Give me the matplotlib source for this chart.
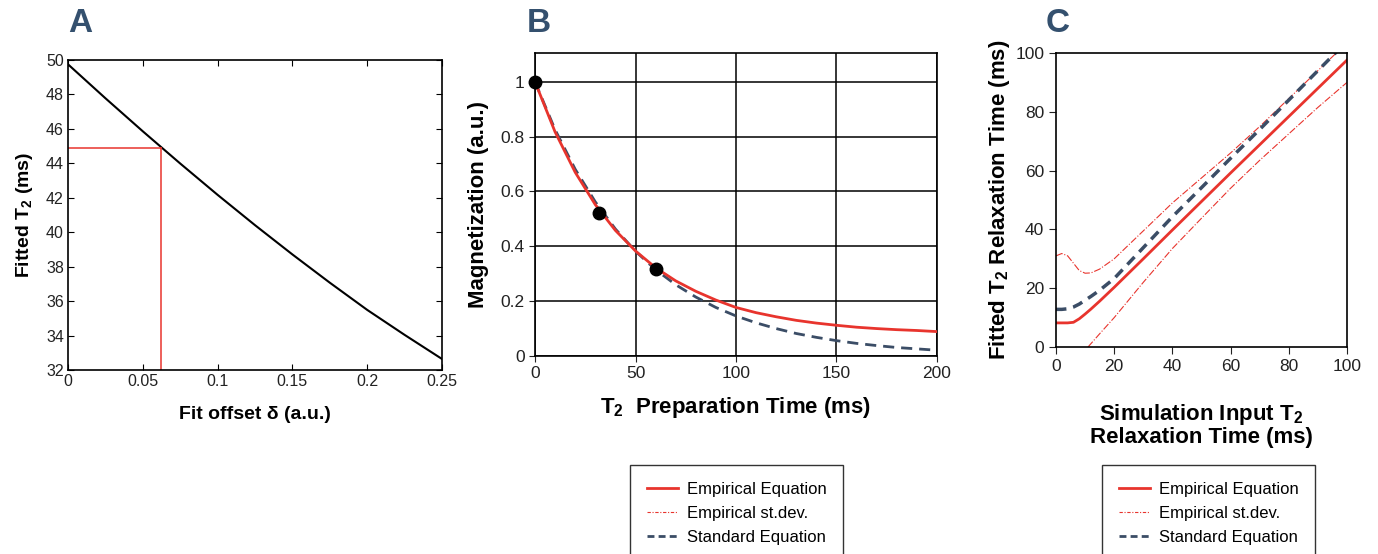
# Three-panel T2 fitting figure: offset bias (A), decay fits (B), fitted vs input T2 (C).
import numpy as np
import matplotlib.pyplot as plt

plt.rcParams['font.family'] = ['Liberation Sans', 'DejaVu Sans']
plt.rcParams['mathtext.fontset'] = 'custom'
plt.rcParams['mathtext.rm'] = 'Liberation Sans'
plt.rcParams['mathtext.bf'] = 'Liberation Sans:bold'
plt.rcParams['mathtext.it'] = 'Liberation Sans:italic'

RED = "#e8342d"
NAVY = "#3b4d66"
LETTER = "#34506e"

# --- panel A: fitted T2 vs fit offset
delta = [0, 0.025, 0.05, 0.075, 0.1, 0.125, 0.15, 0.175, 0.2, 0.225, 0.25]
t2_fit = [49.75, 47.78, 45.86, 43.99, 42.17, 40.41, 38.71, 37.07, 35.49, 34.04, 32.64]
delta_mark, t2_mark = 0.062, 44.9

# --- panel B: magnetization decay
t_prep = [0, 10, 20, 30, 40, 50, 60, 70, 80, 90, 100, 110, 120, 130, 140, 150, 160, 170, 180, 190, 200]
m_emp = [1.0, 0.817, 0.670, 0.552, 0.458, 0.383, 0.322, 0.274, 0.236, 0.204, 0.177, 0.158,
         0.143, 0.130, 0.120, 0.112, 0.105, 0.100, 0.096, 0.093, 0.089]
m_std = [1.0, 0.825, 0.681, 0.562, 0.463, 0.382, 0.315, 0.260, 0.215, 0.177, 0.146, 0.121,
         0.100, 0.082, 0.068, 0.056, 0.046, 0.038, 0.031, 0.026, 0.021]
t_pts = [0, 32, 60]
m_pts = [1.0, 0.523, 0.318]

# --- panel C: fitted vs simulated T2
t2_in = [0, 2, 4, 6, 8, 10, 12, 15, 20, 30, 40, 50, 60, 70, 80, 90, 100]
c_emp = [8.2, 8.2, 8.2, 8.4, 9.6, 11.2, 12.9, 15.6, 20.3, 30.0, 39.8, 49.5, 59.2, 68.8, 78.4, 88.0, 97.6]
c_std = [12.8, 12.8, 13.0, 13.6, 14.6, 15.9, 17.2, 19.3, 23.3, 33.8, 44.3, 54.2, 64.2, 74.0, 84.0, 94.0, 104.0]
c_up = [31.0, 31.8, 31.0, 28.5, 26.0, 25.1, 25.2, 26.5, 30.0, 39.5, 49.0, 57.5, 66.0, 75.0, 84.5, 94.0, 103.5]
t2_in_lo = [11, 15, 20, 30, 40, 50, 60, 70, 80, 90, 100]
c_lo = [0, 4.5, 10.0, 22.0, 33.5, 43.8, 54.0, 63.5, 72.5, 81.5, 90.0]

W, H = 1378, 554
fig = plt.figure(figsize=(W / 100, H / 100), dpi=100)

def box(l, t, r, b):
    return fig.add_axes([l / W, 1 - b / H, (r - l) / W, (b - t) / H])

# A
axA = box(68, 60, 442, 370)
axA.plot(delta, t2_fit, color="black", lw=1.5)
axA.plot([0, delta_mark], [t2_mark, t2_mark], color=RED, lw=1.1)
axA.plot([delta_mark, delta_mark], [32, t2_mark], color=RED, lw=1.1)
axA.set_xlim(0, 0.25); axA.set_ylim(32, 50)
axA.set_xticks([0, 0.05, 0.1, 0.15, 0.2, 0.25])
axA.set_xticklabels(["0", "0.05", "0.1", "0.15", "0.2", "0.25"])
axA.set_yticks(range(32, 51, 2))
axA.tick_params(direction="in", top=True, right=True, length=4, labelsize=11.5, pad=3, labelcolor="#222")
axA.set_xlabel("Fit offset \u03b4 (a.u.)", fontsize=14, fontweight="bold", labelpad=12)
axA.set_ylabel(r"Fitted T$_\mathbf{2}$ (ms)", fontsize=14, fontweight="bold", labelpad=8)
for s in axA.spines.values():
    s.set_linewidth(1.2)

# B
axB = box(535, 53, 937, 356)
axB.plot(t_prep, m_std, color=NAVY, lw=2, ls=(0, (4, 2.5)), zorder=3)
axB.plot(t_prep, m_emp, color=RED, lw=2, zorder=4)
axB.plot(t_pts, m_pts, "o", color="black", ms=9, zorder=5, clip_on=False)
axB.set_xlim(0, 200); axB.set_ylim(0, 1.105)
axB.set_xticks([0, 50, 100, 150, 200])
axB.set_yticks([0, 0.2, 0.4, 0.6, 0.8, 1])
axB.set_yticklabels(["0", "0.2", "0.4", "0.6", "0.8", "1"])
axB.grid(True, color="black", lw=1.1)
axB.set_axisbelow(True)
axB.tick_params(direction="out", length=4, labelsize=12.5, colors="#222")
axB.set_xlabel(r"T$_\mathbf{2}$  Preparation Time (ms)", fontsize=16, fontweight="bold", labelpad=10)
axB.set_ylabel("Magnetization (a.u.)", fontsize=16, fontweight="bold", labelpad=8)
for s in axB.spines.values():
    s.set_linewidth(1.2)

# C
axC = box(1056, 53, 1347, 347)
axC.plot(t2_in, c_up, color=RED, lw=0.8, ls="-.")
axC.plot(t2_in_lo, c_lo, color=RED, lw=0.8, ls="-.")
axC.plot(t2_in, c_std, color=NAVY, lw=2.5, ls=(0, (3, 2)))
axC.plot(t2_in, c_emp, color=RED, lw=2)
axC.set_xlim(0, 100); axC.set_ylim(0, 100)
axC.set_xticks(range(0, 101, 20)); axC.set_yticks(range(0, 101, 20))
axC.tick_params(direction="out", length=5, labelsize=12.5, colors="#222")
axC.set_xlabel("Simulation Input T$_\\mathbf{2}$\nRelaxation Time (ms)", fontsize=16,
               fontweight="bold", labelpad=20, linespacing=1.0)
axC.set_ylabel(r"Fitted T$_\mathbf{2}$ Relaxation Time (ms)", fontsize=16, fontweight="bold", labelpad=2)
for s in axC.spines.values():
    s.set_linewidth(1.2)

# panel letters
for x, letter in [(68, "A"), (527, "B"), (1046, "C")]:
    fig.text(x / W, 1 - 32 / H, letter, fontsize=24, fontweight="bold", color=LETTER, va="baseline")

# legends (identical for B and C), box runs off the bottom edge as in the original
handles = [plt.Line2D([], [], color=RED, lw=2),
           plt.Line2D([], [], color=RED, lw=0.8, ls=(0, (3, 1.5, 1, 1.5))),
           plt.Line2D([], [], color=NAVY, lw=2, ls=(0, (2.5, 1.5)))]
labels = ["Empirical Equation", "Empirical st.dev.", "Standard Equation"]
for x0 in (630, 1102):
    leg = fig.legend(handles, labels, loc="upper left", bbox_to_anchor=(x0 / W, 1 - 465 / H),
                     fontsize=12, frameon=True, fancybox=False, edgecolor="black",
                     handlelength=1.9, handletextpad=0.5, labelspacing=0.55,
                     borderpad=1.0, borderaxespad=0)
    leg.get_frame().set_linewidth(1.0)

fig.savefig("out.png", dpi=100)
